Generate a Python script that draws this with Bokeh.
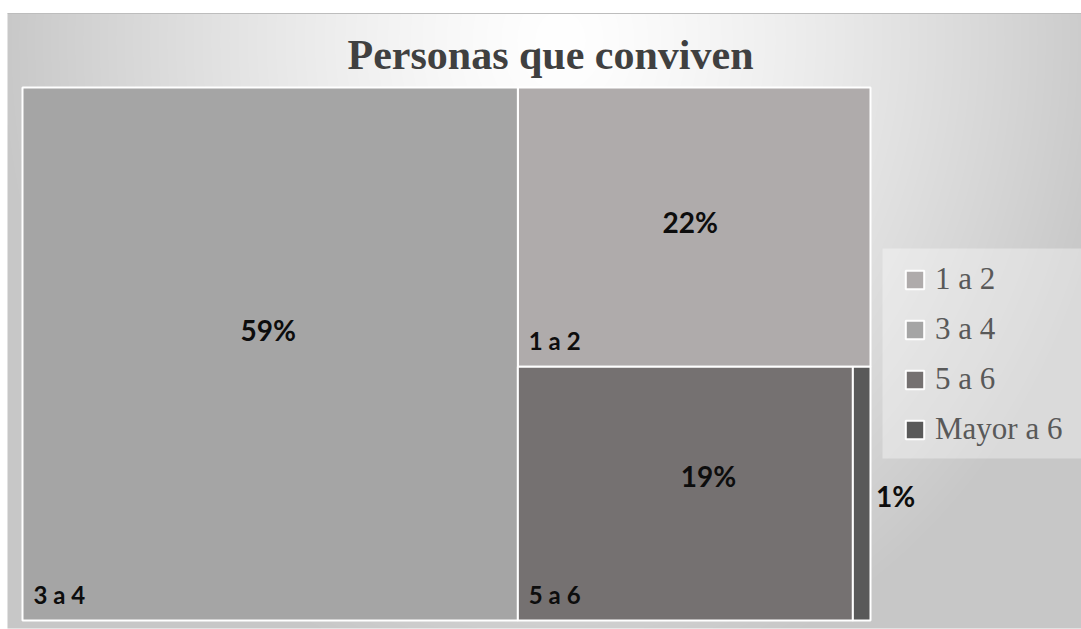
import numpy as np
from bokeh.plotting import figure
from bokeh.models import ColumnDataSource, Range1d, Legend, LegendItem, Label
from bokeh.core.properties import value
from bokeh.embed import file_html
from bokeh.resources import INLINE

# ---- data ----
categories = ["1 a 2", "3 a 4", "5 a 6", "Mayor a 6"]
percentages = [22, 59, 19, 1]
colors = ["#afabab", "#a5a5a5", "#757171", "#595959"]
title_text = "Personas que conviven"

# ---- style / layout (page pixel coordinates, y downwards) ----
PX0, PX1 = 0, 1081
PY0, PY1 = 0, 629
TM = (22, 87, 870, 620)  # treemap bounds x0, y0, x1, y1
pct_dx = [-4, -2, 23, 34]
pct_dy = [-5, -24, -18, 2]

def fy(y):  # page y -> data y
    return -y

p = figure(width=PX1 - PX0, height=PY1 - PY0,
           x_range=Range1d(PX0, PX1), y_range=Range1d(-PY1, -PY0),
           x_axis_type=None, y_axis_type=None,
           output_backend="svg", toolbar_location=None, min_border=0)
p.grid.visible = False
p.outline_line_color = None
p.background_fill_color = "white"
p.border_fill_color = "white"

# background radial gradient
GX0, GY0, GY1 = 7, 13, 628
H = GY1 - GY0
Wd = PX1 - GX0
ys = GY1 - (np.arange(H) + 0.5)
xs = GX0 + np.arange(Wd) + 0.5
X, Y = np.meshgrid(xs, ys)
r = np.sqrt(((X - 560) / 565.0) ** 2 + ((Y - 40) / 660.0) ** 2)
v = (255 - 56 * np.clip(r, 0, 1) ** 1.3).astype(np.uint8)
img = np.empty((H, Wd), dtype=np.uint32)
view = img.view(dtype=np.uint8).reshape((H, Wd, 4))
view[..., 0] = v
view[..., 1] = v
view[..., 2] = v
view[..., 3] = 255
p.image_rgba(image=[img], x=GX0, y=fy(GY1), dw=Wd, dh=H)
p.segment(x0=[GX0], y0=[fy(GY0)], x1=[PX1], y1=[fy(GY0)], line_color="#bdbdbd", line_width=1)

# treemap layout (alternating slice) computed from values
order = sorted(range(len(percentages)), key=lambda i: -percentages[i])
rects = [None] * len(percentages)
x0, y0, x1, y1 = TM
remaining = float(sum(percentages))
vertical = True
for k, i in enumerate(order):
    val = percentages[i]
    if k == len(order) - 1:
        rects[i] = (x0, y0, x1, y1)
    elif vertical:
        w = (x1 - x0) * val / remaining
        rects[i] = (x0, y0, x0 + w, y1)
        x0 += w
    else:
        h = (y1 - y0) * val / remaining
        rects[i] = (x0, y0, x1, y0 + h)
        y0 += h
    remaining -= val
    vertical = not vertical

src = ColumnDataSource(dict(
    left=[rr[0] for rr in rects], right=[rr[2] for rr in rects],
    top=[fy(rr[1]) for rr in rects], bottom=[fy(rr[3]) for rr in rects],
    color=colors, cat=categories,
))
quads = p.quad(left="left", right="right", top="top", bottom="bottom", source=src,
               fill_color="color", line_color="white", line_width=2)

# percentage labels
pct_src = ColumnDataSource(dict(
    x=[(rr[0] + rr[2]) / 2 + dx for rr, dx in zip(rects, pct_dx)],
    y=[fy((rr[1] + rr[3]) / 2 + dy) for rr, dy in zip(rects, pct_dy)],
    t=[f"{v_}%" for v_ in percentages],
))
p.text(x="x", y="y", text="t", source=pct_src, text_font=value("Lato"),
       text_font_style="bold", text_font_size="28px", text_color="#0d0d0d",
       text_align="center", text_baseline="middle")

# category name labels (bottom-left inside boxes wide enough)
nm = [(i, rr) for i, rr in enumerate(rects) if rr[2] - rr[0] > 100]
name_src = ColumnDataSource(dict(
    x=[rr[0] + 11 for _, rr in nm],
    y=[fy(rr[3] - 26) for _, rr in nm],
    t=[categories[i] for i, _ in nm],
))
p.text(x="x", y="y", text="t", source=name_src, text_font=value("Lato"),
       text_font_style="bold", text_font_size="24px", text_color="#0d0d0d",
       text_align="left", text_baseline="middle")

# title
p.add_layout(Label(x=550, y=fy(54), text=title_text, text_font="Liberation Serif",
                   text_font_style="bold", text_font_size="42px", text_color="#404040",
                   text_align="center", text_baseline="alphabetic"))

# legend background
p.quad(left=[882], right=[PX1], top=[fy(248)], bottom=[fy(458)],
       fill_color="white", fill_alpha=0.35, line_color=None)

legend = Legend(
    items=[LegendItem(label=c, renderers=[quads], index=i) for i, c in enumerate(categories)],
    location=(903 - PX0, PY1 - 447),
    label_text_font="Liberation Serif", label_text_font_size="31px",
    label_text_color="#595959", glyph_width=23, glyph_height=23,
    label_standoff=9, label_height=35, spacing=14, padding=0,
    background_fill_alpha=0, border_line_alpha=0,
)
p.add_layout(legend)

open("out.html", "w").write(file_html(p, INLINE))
